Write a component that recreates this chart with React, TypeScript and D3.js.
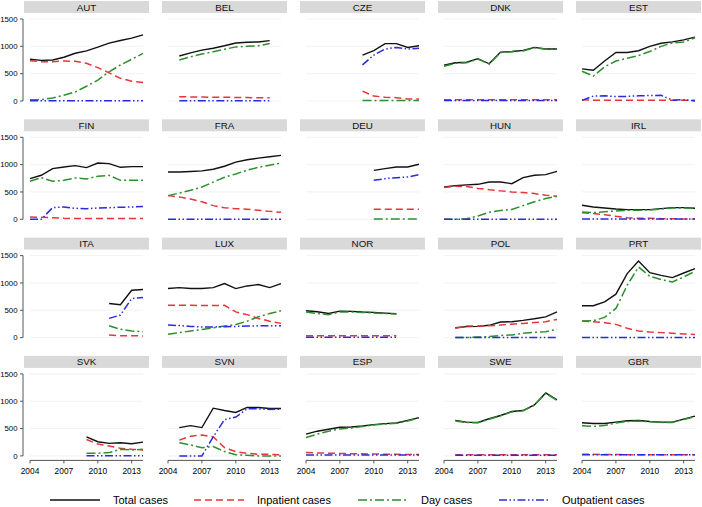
import React from "react";
import * as d3 from "d3";

const years = [2004, 2005, 2006, 2007, 2008, 2009, 2010, 2011, 2012, 2013, 2014];
const xTicks = [2004, 2007, 2010, 2013];
const yTicks = [0, 500, 1000, 1500];
const countries = ["AUT", "BEL", "CZE", "DNK", "EST", "FIN", "FRA", "DEU", "HUN", "IRL", "ITA", "LUX", "NOR", "POL", "PRT", "SVK", "SVN", "ESP", "SWE", "GBR"];
const _ = null;

const totalCases: (number | null)[][] = [
  [763, 744, 750, 800, 873, 916, 984, 1058, 1107, 1150, 1211],
  [_, 824, 880, 930, 965, 1010, 1060, 1075, 1080, 1105, _],
  [_, _, _, _, _, 840, 920, 1050, 1050, 980, 1010],
  [655, 700, 710, 775, 681, 894, 906, 925, 981, 950, 950],
  [588, 563, 731, 888, 888, 919, 1000, 1056, 1081, 1119, 1169],
  [744, 805, 927, 957, 982, 945, 1030, 1018, 951, 963, 963],
  [866, 866, 875, 885, 915, 970, 1045, 1090, 1120, 1145, 1170],
  [_, _, _, _, _, _, 896, 927, 957, 957, 1006],
  [590, 615, 630, 640, 683, 683, 652, 762, 805, 817, 878],
  [256, 226, 207, 189, 177, 177, 177, 195, 213, 213, 201],
  [_, _, _, _, _, _, _, 624, 600, 867, 879],
  [897, 915, 897, 897, 915, 988, 897, 945, 970, 915, 988],
  [491, 473, 442, 485, 479, 467, 461, 448, 436, _, _],
  [_, 180, 200, 205, 225, 285, 290, 315, 345, 380, 470],
  [582, 582, 655, 794, 1170, 1400, 1188, 1139, 1097, 1182, 1261],
  [_, _, _, _, _, 349, 259, 229, 241, 223, 253],
  [_, 518, 554, 518, 873, 831, 795, 886, 886, 867, 867],
  [398, 452, 488, 524, 530, 548, 572, 590, 602, 651, 699],
  [_, 650, 618, 612, 679, 739, 812, 830, 933, 1152, 1024],
  [606, 594, 594, 618, 642, 648, 630, 618, 618, 673, 727],
];

const inpatientCases: (number | null)[][] = [
  [738, 720, 720, 732, 726, 690, 610, 515, 415, 363, 338],
  [_, 80, 75, 72, 70, 68, 65, 62, 60, 60, _],
  [_, _, _, _, _, 180, 90, 70, 60, 35, 35],
  [22, 22, 22, 22, 22, 22, 22, 22, 22, 22, 22],
  [25, 15, 15, 15, 15, 15, 15, 15, 15, 15, 15],
  [43, 37, 30, 18, 15, 15, 15, 15, 15, 15, 15],
  [433, 410, 370, 320, 250, 210, 195, 185, 165, 145, 128],
  [_, _, _, _, _, _, 183, 183, 183, 183, 183],
  [580, 605, 600, 565, 540, 520, 500, 490, 470, 440, 420],
  [122, 104, 85, 55, 30, 18, 18, 12, 12, 6, 6],
  [_, _, _, _, _, _, _, 48, 36, 36, 30],
  [594, 594, 594, 585, 585, 590, 470, 420, 350, 300, 260],
  [36, 36, 36, 36, 36, 36, 36, 36, 36, _, _],
  [_, 170, 210, 212, 215, 230, 245, 260, 275, 291, 333],
  [303, 291, 273, 242, 170, 121, 103, 91, 79, 67, 55],
  [_, _, _, _, _, 301, 217, 181, 139, 120, 108],
  [_, 289, 361, 380, 349, 151, 78, 48, 30, 30, 18],
  [60, 55, 50, 45, 40, 38, 35, 30, 28, 25, 25],
  [_, 22, 22, 22, 22, 22, 22, 22, 22, 22, 22],
  [30, 28, 25, 25, 22, 20, 20, 20, 20, 20, 20],
];

const dayCases: (number | null)[][] = [
  [25, 25, 55, 105, 166, 270, 381, 535, 658, 763, 870],
  [_, 750, 810, 860, 900, 945, 990, 1000, 1010, 1050, _],
  [_, _, _, _, _, 10, 10, 10, 10, 10, 10],
  [635, 690, 700, 765, 676, 885, 900, 915, 975, 945, 945],
  [544, 456, 625, 731, 781, 831, 906, 1000, 1062, 1081, 1156],
  [695, 762, 695, 713, 756, 738, 787, 805, 713, 713, 713],
  [433, 480, 530, 590, 680, 770, 830, 900, 950, 990, 1030],
  [_, _, _, _, _, _, 5, 5, 5, 5, 5],
  [0, 0, 10, 60, 130, 160, 180, 250, 320, 380, 420],
  [134, 122, 140, 152, 165, 165, 171, 189, 207, 207, 201],
  [_, _, _, _, _, _, _, 218, 152, 121, 109],
  [61, 90, 120, 150, 180, 212, 240, 300, 380, 440, 491],
  [470, 440, 420, 470, 470, 460, 450, 440, 430, _, _],
  [_, 0, 0, 10, 18, 40, 48, 80, 97, 109, 152],
  [303, 309, 370, 533, 958, 1291, 1121, 1061, 1018, 1109, 1212],
  [_, _, _, _, _, 48, 48, 60, 120, 108, 120],
  [_, 240, 200, 150, 170, 80, 20, 10, 0, 0, 0],
  [337, 398, 452, 494, 512, 536, 566, 584, 596, 639, 693],
  [_, 640, 610, 605, 672, 732, 805, 825, 928, 1145, 1018],
  [552, 539, 558, 600, 630, 636, 624, 612, 612, 667, 715],
];

const outpatientCases: (number | null)[][] = [
  [5, 5, 5, 5, 5, 5, 5, 5, 5, 5, 5],
  [_, 5, 5, 5, 5, 5, 5, 5, 5, 5, _],
  [_, _, _, _, _, 660, 840, 950, 980, 950, 965],
  [8, 8, 8, 8, 8, 8, 8, 8, 8, 8, 8],
  [12, 90, 95, 80, 85, 95, 100, 105, 15, 25, 0],
  [0, 0, 213, 226, 201, 195, 207, 213, 220, 226, 232],
  [0, 0, 0, 0, 0, 0, 0, 0, 0, 0, 0],
  [_, _, _, _, _, _, 713, 744, 762, 774, 817],
  [0, 0, 0, 0, 0, 0, 0, 0, 0, 0, 0],
  [5, 5, 5, 5, 5, 5, 5, 5, 5, 5, 5],
  [_, _, _, _, _, _, _, 352, 412, 715, 733],
  [230, 220, 205, 195, 195, 200, 205, 210, 215, 218, 218],
  [8, 8, 8, 8, 8, 8, 8, 8, 8, _, _],
  [_, 0, 0, 0, 0, 0, 0, 0, 0, 0, 0],
  [0, 0, 0, 0, 0, 0, 0, 0, 0, 0, 0],
  [_, _, _, _, _, 5, 5, 5, 5, 5, 5],
  [_, 0, 0, 0, 349, 663, 711, 861, 861, 849, 855],
  [15, 15, 15, 15, 15, 15, 15, 15, 15, 15, 15],
  [_, 10, 10, 10, 10, 10, 10, 10, 10, 10, 10],
  [20, 20, 20, 20, 20, 20, 20, 20, 20, 20, 20],
];

const seriesNames = ["Total cases", "Inpatient cases", "Day cases", "Outpatient cases"];
const seriesData = [totalCases, inpatientCases, dayCases, outpatientCases];
const seriesColors = ["#111111", "#e8353a", "#2f8f2f", "#2a2ae0"];
const seriesDash = ["none", "7,4", "9,3,2,3", "8,2.5,1.5,2.5,1.5,2.5"];

const FONT = "'Liberation Sans', Arial, Helvetica, sans-serif";

export default function App() {
  const colStep = 138;
  const rowStep = 118.3;
  const x = d3.scaleLinear().domain([2004, 2014]).range([0, 113]);
  const y = d3.scaleLinear().domain([0, 1500]).range([82, 0]);
  const line = d3
    .line<[number, number | null]>()
    .defined((d) => d[1] != null)
    .x((d) => x(d[0]))
    .y((d) => y(d[1] as number));

  const legendX = [50, 194, 358, 499];

  return (
    <svg
      width={702}
      height={507}
      style={{ position: "fixed", left: 0, top: 0, background: "#fff" }}
      fontFamily={FONT}
    >
      <rect width={702} height={507} fill="#fff" />
      {countries.map((c, i) => {
        const col = i % 5;
        const row = Math.floor(i / 5);
        const ox = 30 + colStep * col;
        const oy = 19 + rowStep * row;
        return (
          <g key={c} transform={`translate(${ox},${oy})`}>
            <rect x={-6} y={-18} width={125} height={12} fill="#d9d9d9" />
            <text x={56.5} y={-8.5} textAnchor="middle" fontSize={9.8} fill="#111">
              {c}
            </text>
            {yTicks.map((t) => (
              <line key={t} x1={x(2004)} x2={x(2014)} y1={y(t)} y2={y(t)} stroke="#efefef" strokeWidth={0.8} />
            ))}
            {col === 0 && (
              <g>
                <line x1={-7} x2={-7} y1={y(0)} y2={y(1500)} stroke="#444" strokeWidth={0.9} />
                {yTicks.map((t) => (
                  <g key={t}>
                    <line x1={-10} x2={-7} y1={y(t)} y2={y(t)} stroke="#444" strokeWidth={0.9} />
                    <text x={-12.5} y={y(t) + 2.7} textAnchor="end" fontSize={7.8} fill="#000">
                      {t}
                    </text>
                  </g>
                ))}
              </g>
            )}
            {row === 3 && (
              <g transform={`translate(0,${y(0) + 4.5})`}>
                <line x1={x(2004)} x2={x(2014)} y1={0} y2={0} stroke="#444" strokeWidth={0.9} />
                {xTicks.map((t) => (
                  <g key={t}>
                    <line x1={x(t)} x2={x(t)} y1={0} y2={3} stroke="#444" strokeWidth={0.9} />
                    <text x={x(t)} y={13.3} textAnchor="middle" fontSize={8.4} fill="#000">
                      {t}
                    </text>
                  </g>
                ))}
              </g>
            )}
            {seriesData.map((s, k) => (
              <path
                key={k}
                d={line(years.map((yr, j) => [yr, s[i][j]] as [number, number | null])) || ""}
                fill="none"
                stroke={seriesColors[k]}
                strokeWidth={k === 0 ? 1.4 : 1.5}
                strokeDasharray={seriesDash[k]}
              />
            ))}
          </g>
        );
      })}
      {seriesNames.map((n, k) => (
        <g key={n} transform={`translate(${legendX[k]},500)`}>
          <line x1={0} x2={50} y1={0} y2={0} stroke={seriesColors[k]} strokeWidth={1.5} strokeDasharray={seriesDash[k]} />
          <text x={63} y={4} fontSize={11} fill="#000">
            {n}
          </text>
        </g>
      ))}
    </svg>
  );
}
